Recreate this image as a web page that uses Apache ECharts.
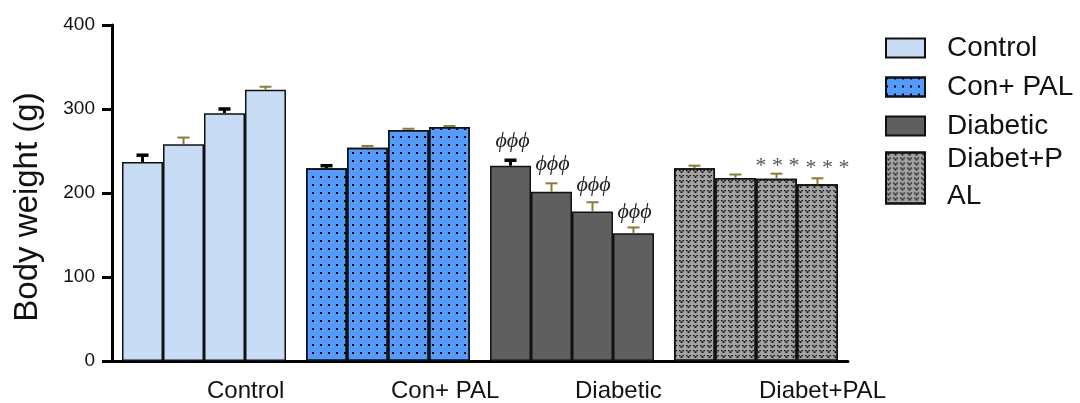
<!DOCTYPE html>
<html>
<head>
<meta charset="utf-8">
<script src="https://cdn.jsdelivr.net/npm/echarts@6/dist/echarts.min.js"></script>
<style>
  html, body { margin: 0; padding: 0; background: #fff; }
  #chart { width: 1080px; height: 403px; }
</style>
</head>
<body>
<div id="chart"></div>
<script>
// ---- DATA ----
const groups = ['Control', 'Con+ PAL', 'Diabetic', 'Diabet+PAL'];
const timePoints = ['T1', 'T2', 'T3', 'T4'];
const yTicks = [0, 100, 200, 300, 400];

const controlMean = [237, 258, 295, 323];
const controlSem = [8, 8, 5, 3.5];
const conPalMean = [229.5, 254, 275, 278.5];
const conPalSem = [3, 2, 1.5, 1.2];
const diabeticMean = [232.5, 201.5, 178, 152];
const diabeticSem = [6.5, 10, 11, 7];
const diabetPalMean = [229.5, 218, 217, 210.5];
const diabetPalSem = [3, 4, 6, 7];

// significance marks above the bars
const diabeticMarks = ['ϕϕϕ', 'ϕϕϕ', 'ϕϕϕ', 'ϕϕϕ'];
const diabetPalMarks = ['', '', '* * *', '* * *'];

const means = [controlMean, conPalMean, diabeticMean, diabetPalMean];
const sems = [controlSem, conPalSem, diabeticSem, diabetPalSem];
const marks = [[], [], diabeticMarks, diabetPalMarks];

// ---- STYLES ----
const CAT_GAP = 0.109;
const BLACK = '#000';
const OLIVE = '#8c7b3a';
const errColors = [
  [BLACK, OLIVE, BLACK, OLIVE],
  [BLACK, OLIVE, OLIVE, OLIVE],
  [BLACK, OLIVE, OLIVE, OLIVE],
  [OLIVE, OLIVE, OLIVE, OLIVE]
];
// small nudges of the marks, [dx, dy]
const markShift = [
  [], [],
  [[2, 0], [1, 0], [1, 2], [1, 4]],
  [[0, 0], [0, 0], [1, 6], [10, 3]]
];

const dotDecal = {
  symbol: 'rect', symbolSize: 1, color: '#000',
  dashArrayX: [2, 6], dashArrayY: [2, 6]
};
const vDecal = {
  symbol: 'path://M0,0h1.6v1.2h-1.6z M3.4,0h1.6v1.2h-1.6z M1.6,1.2h1.8v1.8h-1.8z',
  symbolSize: 1, color: '#111',
  dashArrayX: [5, 2], dashArrayY: [3, 1.3]
};
const groupStyles = [
  { color: '#c8dcf5', borderColor: '#111', borderWidth: 1.5 },
  { color: '#559bfc', borderColor: '#111', borderWidth: 1.5, decal: dotDecal },
  { color: '#5f5f5f', borderColor: '#111', borderWidth: 1.5 },
  { color: '#a3a3a3', borderColor: '#111', borderWidth: 1.5, decal: vDecal }
];

// ---- SERIES ----
const barSeries = timePoints.map((t, ti) => ({
  name: t,
  type: 'bar',
  stack: 's' + ti,
  barGap: 0,
  barCategoryGap: (CAT_GAP * 100) + '%',
  data: groups.map((g, gi) => ({ value: means[gi][ti], itemStyle: groupStyles[gi] })),
  z: 3
}));

// empty series only used to feed the legend
const legendSeries = groups.map((g, gi) => ({
  name: g,
  type: 'bar',
  stack: 's0',
  data: [],
  itemStyle: groupStyles[gi]
}));

const errData = [];
groups.forEach((g, gi) => {
  timePoints.forEach((t, ti) => {
    errData.push([gi, ti, means[gi][ti], sems[gi][ti]]);
  });
});

const errorSeries = {
  type: 'custom',
  z: 4,
  data: errData,
  encode: { x: 0, y: 2 },
  renderItem(params, api) {
    const gi = api.value(0), ti = api.value(1);
    const mean = api.value(2), sem = api.value(3);
    const mark = marks[gi][ti] || '';
    const catW = api.size([1, 0])[0];
    const groupW = catW * (1 - CAT_GAP);
    const barW = groupW / timePoints.length;
    const cx = api.coord([gi, 0])[0] - groupW / 2 + barW * (ti + 0.5);
    const yBar = api.coord([gi, mean])[1];
    const yTop = api.coord([gi, mean + sem])[1];
    const col = errColors[gi][ti];
    const heavy = col === BLACK;
    const children = [
      { type: 'line', shape: { x1: cx, y1: yBar, x2: cx, y2: yTop },
        style: { stroke: col, lineWidth: heavy ? 3 : 2 } },
      { type: 'line', shape: { x1: cx - 6, y1: yTop, x2: cx + 6, y2: yTop },
        style: { stroke: col, lineWidth: heavy ? 3.5 : 2 } }
    ];
    if (mark) {
      const star = mark.indexOf('*') >= 0;
      const sh = markShift[gi][ti] || [0, 0];
      children.push({
        type: 'text',
        x: cx + sh[0], y: yTop - (star ? 2 : 8) + sh[1],
        style: {
          text: mark,
          align: 'center', verticalAlign: 'bottom',
          fill: star ? '#555' : '#222',
          font: star ? '22px "Liberation Serif"' : 'italic 22px "Liberation Serif"'
        }
      });
    }
    return { type: 'group', children };
  }
};

// ---- CHART ----
const chart = echarts.init(document.getElementById('chart'), null, { renderer: 'canvas' });
chart.setOption({
  animation: false,
  backgroundColor: '#fff',
  textStyle: { fontFamily: 'Liberation Sans, Arial, sans-serif', color: '#111' },
  grid: { left: 112, right: 232, top: 25, bottom: 42, containLabel: false },
  legend: [
    {
      data: groups.slice(0, 3),
      orient: 'vertical',
      left: 885, top: 34,
      padding: 0,
      itemWidth: 39, itemHeight: 19, itemGap: 11,
      icon: 'rect',
      selectedMode: false,
      textStyle: { fontSize: 28, color: '#111', padding: [0, 0, 0, 17] }
    },
    {
      data: [groups[3]],
      orient: 'vertical',
      left: 885, top: 141,
      padding: 0,
      itemWidth: 39, itemHeight: 51,
      icon: 'rect',
      selectedMode: false,
      formatter: () => 'Diabet+P\nAL',
      textStyle: { fontSize: 28, lineHeight: 37, color: '#111', padding: [0, 0, 0, 17] }
    }
  ],
  xAxis: {
    type: 'category',
    data: groups,
    axisLine: { lineStyle: { color: '#000', width: 3 } },
    axisTick: { show: false },
    axisLabel: { align: 'left', fontSize: 24, color: '#111', margin: 18, padding: [0, 0, 0, 3] }
  },
  yAxis: {
    type: 'value',
    min: yTicks[0], max: yTicks[yTicks.length - 1], interval: 100,
    name: 'Body weight (g)',
    nameLocation: 'middle',
    nameGap: 68,
    nameTextStyle: { fontSize: 33, color: '#111', padding: [0, 28, 0, 0] },
    axisLine: { show: true, lineStyle: { color: '#000', width: 3 } },
    axisTick: { show: true, length: 10, lineStyle: { color: '#000', width: 3 } },
    axisLabel: { fontSize: 19, color: '#111', margin: 17 },
    splitLine: { show: false }
  },
  series: [...barSeries, ...legendSeries, errorSeries]
});
</script>
</body>
</html>
